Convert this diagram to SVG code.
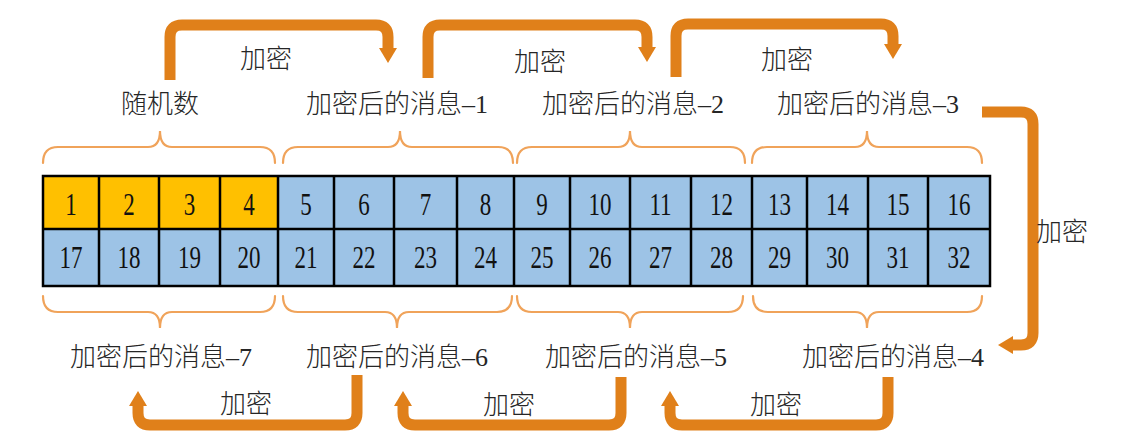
<svg xmlns="http://www.w3.org/2000/svg" width="1126" height="446" viewBox="0 0 1126 446">
<style>
.lbl{font-family:"Liberation Serif","Noto Sans CJK SC",serif;font-size:26px;font-weight:300;fill:#262626;text-anchor:middle}
.num{font-family:"Liberation Serif",serif;font-size:23px;fill:#111;text-anchor:middle}
.arr{fill:none;stroke:#E0801A;stroke-width:11;stroke-linejoin:round}
.brace{fill:none;stroke:#F0A35A;stroke-width:2.2;stroke-linecap:round}
.y{fill:#FFC000}
.b{fill:#9DC3E6}
.grid{stroke:#000;stroke-width:2.5;fill:none}
</style>
<defs>
<marker id="ah" markerUnits="userSpaceOnUse" markerWidth="16" markerHeight="20" viewBox="0 -10 16 20" refX="2" refY="0" orient="auto">
<path d="M0,-9 L15,0 L0,9 Z" fill="#E0801A"/>
</marker>
</defs>
<rect width="1126" height="446" fill="#fff"/>

<g id="grid">
<rect class="y" x="43" y="176" width="235" height="53"/>
<rect class="b" x="278" y="176" width="712" height="53"/>
<rect class="b" x="43" y="229" width="947" height="57"/>
<rect class="grid" x="43" y="176" width="947" height="110"/>
<path class="grid" d="M43,229H990 M99,176V286 M159,176V286 M220,176V286 M278,176V286 M334,176V286 M394,176V286 M457,176V286 M514,176V286 M570,176V286 M630,176V286 M691,176V286 M752,176V286 M807,176V286 M868,176V286 M928,176V286"/>
<g class="num">
<text transform="translate(71,215) scale(1,1.35)">1</text>
<text transform="translate(129,215) scale(1,1.35)">2</text>
<text transform="translate(189.5,215) scale(1,1.35)">3</text>
<text transform="translate(249,215) scale(1,1.35)">4</text>
<text transform="translate(306,215) scale(1,1.35)">5</text>
<text transform="translate(364,215) scale(1,1.35)">6</text>
<text transform="translate(425.5,215) scale(1,1.35)">7</text>
<text transform="translate(485.5,215) scale(1,1.35)">8</text>
<text transform="translate(542,215) scale(1,1.35)">9</text>
<text transform="translate(600,215) scale(1,1.35)">10</text>
<text transform="translate(660.5,215) scale(1,1.35)">11</text>
<text transform="translate(721.5,215) scale(1,1.35)">12</text>
<text transform="translate(779.5,215) scale(1,1.35)">13</text>
<text transform="translate(837.5,215) scale(1,1.35)">14</text>
<text transform="translate(898,215) scale(1,1.35)">15</text>
<text transform="translate(959,215) scale(1,1.35)">16</text>
<text transform="translate(71,268) scale(1,1.35)">17</text>
<text transform="translate(129,268) scale(1,1.35)">18</text>
<text transform="translate(189.5,268) scale(1,1.35)">19</text>
<text transform="translate(249,268) scale(1,1.35)">20</text>
<text transform="translate(306,268) scale(1,1.35)">21</text>
<text transform="translate(364,268) scale(1,1.35)">22</text>
<text transform="translate(425.5,268) scale(1,1.35)">23</text>
<text transform="translate(485.5,268) scale(1,1.35)">24</text>
<text transform="translate(542,268) scale(1,1.35)">25</text>
<text transform="translate(600,268) scale(1,1.35)">26</text>
<text transform="translate(660.5,268) scale(1,1.35)">27</text>
<text transform="translate(721.5,268) scale(1,1.35)">28</text>
<text transform="translate(779.5,268) scale(1,1.35)">29</text>
<text transform="translate(837.5,268) scale(1,1.35)">30</text>
<text transform="translate(898,268) scale(1,1.35)">31</text>
<text transform="translate(959,268) scale(1,1.35)">32</text>
</g>
</g>

<g id="braces">
<path class="brace" d="M43,163 Q43,147 58,147 H148 Q160,147 160,131 Q160,147 172,147 H260 Q275,147 275,163"/>
<path class="brace" d="M283,163 Q283,147 298,147 H388 Q400,147 400,131 Q400,147 412,147 H498 Q513,147 513,163"/>
<path class="brace" d="M517,163 Q517,147 532,147 H618 Q630,147 630,131 Q630,147 642,147 H730 Q745,147 745,163"/>
<path class="brace" d="M752,163 Q752,147 767,147 H855 Q867,147 867,131 Q867,147 879,147 H967 Q982,147 982,163"/>
<path class="brace" d="M43,296 Q43,312 58,312 H148 Q160,312 160,328 Q160,312 172,312 H260 Q275,312 275,296"/>
<path class="brace" d="M283,296 Q283,312 298,312 H385 Q397,312 397,328 Q397,312 409,312 H497 Q512,312 512,296"/>
<path class="brace" d="M517,296 Q517,312 532,312 H618 Q630,312 630,328 Q630,312 642,312 H728 Q743,312 743,296"/>
<path class="brace" d="M753,296 Q753,312 768,312 H855 Q867,312 867,328 Q867,312 879,312 H967 Q982,312 982,296"/>
</g>

<g id="label-random"><text class="lbl" x="160" y="113">随机数</text></g>
<g id="label-msg1"><text class="lbl" x="397" y="113">加密后的消息–1</text></g>
<g id="label-msg2"><text class="lbl" x="633" y="113">加密后的消息–2</text></g>
<g id="label-msg3"><text class="lbl" x="868" y="113">加密后的消息–3</text></g>
<g id="label-msg7"><text class="lbl" x="161" y="366">加密后的消息–7</text></g>
<g id="label-msg6"><text class="lbl" x="397" y="366">加密后的消息–6</text></g>
<g id="label-msg5"><text class="lbl" x="636" y="366">加密后的消息–5</text></g>
<g id="label-msg4"><text class="lbl" x="893" y="366">加密后的消息–4</text></g>

<g id="connectors">
<path class="arr" marker-end="url(#ah)" d="M170,80 V37 Q170,25 182,25 H376 Q388,25 388,37 V50"/>
<path class="arr" marker-end="url(#ah)" d="M428,78 V37 Q428,25 440,25 H635 Q647,25 647,37 V49"/>
<path class="arr" marker-end="url(#ah)" d="M676,77 V36 Q676,24 688,24 H881 Q893,24 893,36 V46"/>
<path class="arr" marker-end="url(#ah)" d="M982,112 H1021 Q1033,112 1033,124 V333 Q1033,345 1021,345 H1011"/>
<path class="arr" marker-end="url(#ah)" d="M357,375 V413 Q357,425 345,425 H150 Q138,425 138,413 V404"/>
<path class="arr" marker-end="url(#ah)" d="M621,377 V413 Q621,425 609,425 H415 Q403,425 403,413 V404"/>
<path class="arr" marker-end="url(#ah)" d="M888,377 V413 Q888,425 876,425 H682 Q670,425 670,413 V404"/>
<g class="lbl">
<text x="266" y="68">加密</text>
<text x="540" y="71">加密</text>
<text x="787" y="69">加密</text>
<text x="1062" y="241">加密</text>
<text x="246" y="413">加密</text>
<text x="509" y="414">加密</text>
<text x="776" y="414">加密</text>
</g>
</g>
</svg>
